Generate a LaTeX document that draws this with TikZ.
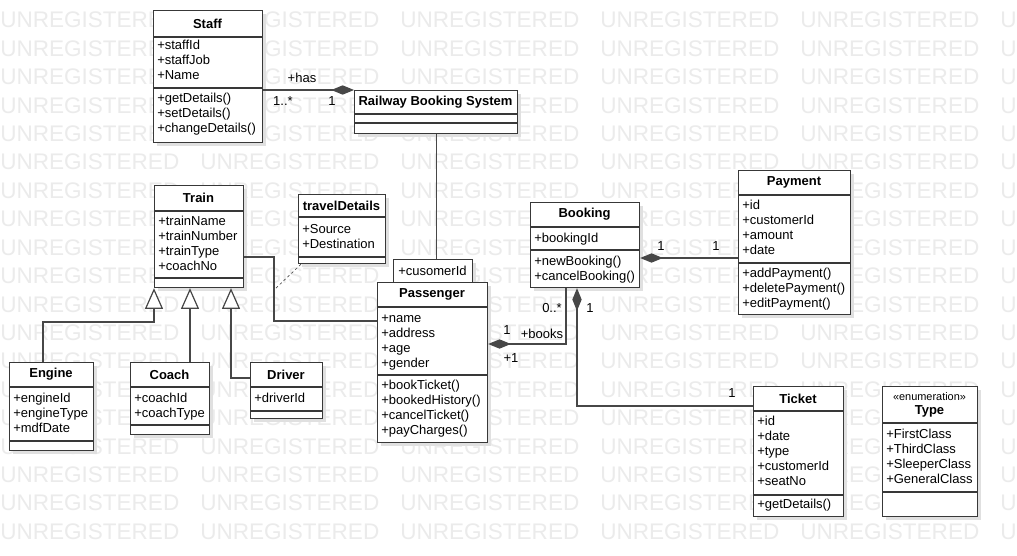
\documentclass[tikz,border=0pt]{standalone}
\usepackage{fontspec}
\setmainfont{Liberation Sans}
\usetikzlibrary{arrows.meta,calc}

\tikzset{
  ink/.style={draw=black!78, line width=0.9pt},
  classbox/.style={ink, fill=white, inner sep=0pt, anchor=north west},
  shade/.style={fill=black!12},
  ctitle/.style={font=\bfseries\fontsize{9.75}{11}\selectfont, inner sep=0pt},
  member/.style={font=\fontsize{9.75}{11}\selectfont, inner sep=0pt, anchor=base west},
  lbl/.style={font=\fontsize{9.75}{11}\selectfont, inner sep=0pt},
  wmark/.style={font=\fontsize{16.9}{18}\selectfont, text=black!8, inner sep=0pt, anchor=base west},
  conn/.style={draw=black!72, line width=0.9pt},
  comp/.style={conn, {Diamond[length=17pt,width=7pt]}-},
  gen/.style={conn, -{Triangle[open,length=15.5pt,width=13.5pt,fill=white]}},
  note/.style={draw=black!70, line width=0.5pt, dash pattern=on 2pt off 2pt},
}

% class box: name, left, top, right, bottom, first separator, second separator, title
\newcommand\umlclass[8]{%
  \fill[shade] ({#2+4},{#3+4}) rectangle ({#4+4},{#5+4});
  \node[classbox, minimum width={(#4-#2)*0.75pt}, minimum height={(#5-#3)*0.75pt}] (#1) at (#2,#3) {};
  \draw[ink] (#2,#6) -- (#4,#6);
  \draw[ink] (#2,#7) -- (#4,#7);
  \node[ctitle] (#1-title) at ({(#2+#4)/2},{(#3+#6)/2}) {#8};
}
% member lines: prefix, left edge, centre of first line, list
\newcommand\umlmembers[4]{%
  \foreach \m [count=\k] in {#4} {
    \node[member] (#1-\k) at ({#2+4},{#3+4.5+15*(\k-1)}) {\m};
  }
}

\begin{document}
\begin{tikzpicture}[x=0.75pt, y=-0.75pt]
  \useasboundingbox (0,0) rectangle (1017,556);
  \fill[white] (0,0) rectangle (1017,556);

  % watermark rows
  \begin{scope}
    \clip (0,0) rectangle (1017,556);
    \foreach \r in {0,...,18} {
      \foreach \c in {0,...,5} {
        \node[wmark] (wm-\r-\c) at ({200*\c},{28+28.4*\r}) {UNREGISTERED};
      }
    }
  \end{scope}

  % classes
  \umlclass{staff}{153}{10}{262}{142}{37}{88}{Staff}
  \umlmembers{staff-a}{153}{45}{+staffId,+staffJob,+Name}
  \umlmembers{staff-m}{153}{98}{+getDetails(),+setDetails(),+changeDetails()}

  \umlclass{rbs}{354}{90}{517}{133}{114}{123}{Railway Booking System}

  \umlclass{train}{154}{185}{243}{287}{211}{278}{Train}
  \umlmembers{train-a}{154}{221}{+trainName,+trainNumber,+trainType,+coachNo}

  \umlclass{travel}{298}{194}{385}{263}{217}{257}{travelDetails}
  \umlmembers{travel-a}{298}{229}{+Source,+Destination}

  \umlclass{engine}{9}{362}{93}{450}{387}{441}{Engine}
  \umlmembers{engine-a}{9}{398}{+engineId,+engineType,+mdfDate}

  \umlclass{coach}{130}{362}{209}{434}{387}{425}{Coach}
  \umlmembers{coach-a}{130}{398}{+coachId,+coachType}

  \umlclass{driver}{250}{362}{322}{418}{387}{411}{Driver}
  \umlmembers{driver-a}{250}{398}{+driverId}

  \umlclass{passenger}{377}{282}{487}{442}{307}{375}{Passenger}
  \umlmembers{passenger-a}{377}{318}{+name,+address,+age,+gender}
  \umlmembers{passenger-m}{377}{385}{+bookTicket(),+bookedHistory(),+cancelTicket(),+payCharges()}

  % qualifier on top of Passenger
  \fill[shade] (397,263) rectangle (476,282);
  \node[classbox, minimum width={79*0.75pt}, minimum height={23*0.75pt}] (qual) at (393,259) {};
  \node[lbl] (qual-text) at (432.5,270.5) {+cusomerId};

  \umlclass{booking}{530}{202}{639}{287}{227}{250}{Booking}
  \umlmembers{booking-a}{530}{238}{+bookingId}
  \umlmembers{booking-m}{530}{261}{+newBooking(),+cancelBooking()}

  \umlclass{payment}{738}{170}{850}{314}{195}{263}{Payment}
  \umlmembers{payment-a}{738}{205}{+id,+customerId,+amount,+date}
  \umlmembers{payment-m}{738}{273}{+addPayment(),+deletePayment(),+editPayment()}

  \umlclass{ticket}{753}{386}{843}{516}{411}{495}{Ticket}
  \umlmembers{ticket-a}{753}{421}{+id,+date,+type,+customerId,+seatNo}
  \umlmembers{ticket-m}{753}{504}{+getDetails()}

  \umlclass{type}{882}{386}{977}{516}{423}{492}{}
  \node[lbl, font=\fontsize{8.2}{9}\selectfont] (type-stereo) at (929.5,397) {«enumeration»};
  \node[ctitle] (type-name) at (929.5,411) {Type};
  \umlmembers{type-a}{882}{434}{+FirstClass,+ThirdClass,+SleeperClass,+GeneralClass}

  % Staff -- Railway Booking System
  \draw[comp] (rbs.north west) -- (staff.east |- rbs.north west);
  \node[lbl] (l-has) at (302,78) {+has};
  \node[lbl] (l-many) at (283,101) {1..*};
  \node[lbl] (l-one) at (332,101) {1};

  % Railway Booking System -- Passenger
  \draw[conn] (rbs.south) -- (rbs.south |- qual.north);

  % Train -- Passenger, with association class note
  \coordinate (tpA) at (274,257);
  \coordinate (tpB) at (274,321);
  \coordinate (tpD) at (275,289);
  \draw[conn] (train.east |- tpA) -- (tpA) -- (tpB) -- (passenger.west |- tpB);
  \draw[note] ($(travel.south west)+(3,0)$) -- (tpD);

  % generalisations
  \coordinate (gE) at (154,322);
  \coordinate (gE2) at (43,322);
  \draw[gen] (engine.north -| gE2) -- (gE2) -- (gE) -- (train.south -| gE);
  \coordinate (gC) at (190,322);
  \draw[gen] (coach.north -| gC) -- (train.south -| gC);
  \coordinate (gD) at (231,378);
  \draw[gen] (driver.west |- gD) -- (gD) -- (train.south -| gD);

  % Booking -- Passenger
  \coordinate (bkA) at (566,344);
  \draw[comp] (passenger.east |- bkA) -- (bkA) -- (booking.south -| bkA);
  \node[lbl] (l-bk0) at (552,308) {0..*};
  \node[lbl] (l-books) at (542,334) {+books};
  \node[lbl] (l-bk1) at (507,330) {1};
  \node[lbl] (l-bk2) at (511,358) {+1};

  % Booking -- Ticket
  \coordinate (bkB) at (577,406);
  \draw[comp] (booking.south -| bkB) -- (bkB) -- (ticket.west |- bkB);
  \node[lbl] (l-bt1) at (590,308) {1};
  \node[lbl] (l-bt2) at (732,393) {1};

  % Booking -- Payment
  \coordinate (bkC) at (700,258);
  \draw[comp] (booking.east |- bkC) -- (payment.west |- bkC);
  \node[lbl] (l-bp1) at (661,246) {1};
  \node[lbl] (l-bp2) at (716,246) {1};
\end{tikzpicture}
\end{document}
